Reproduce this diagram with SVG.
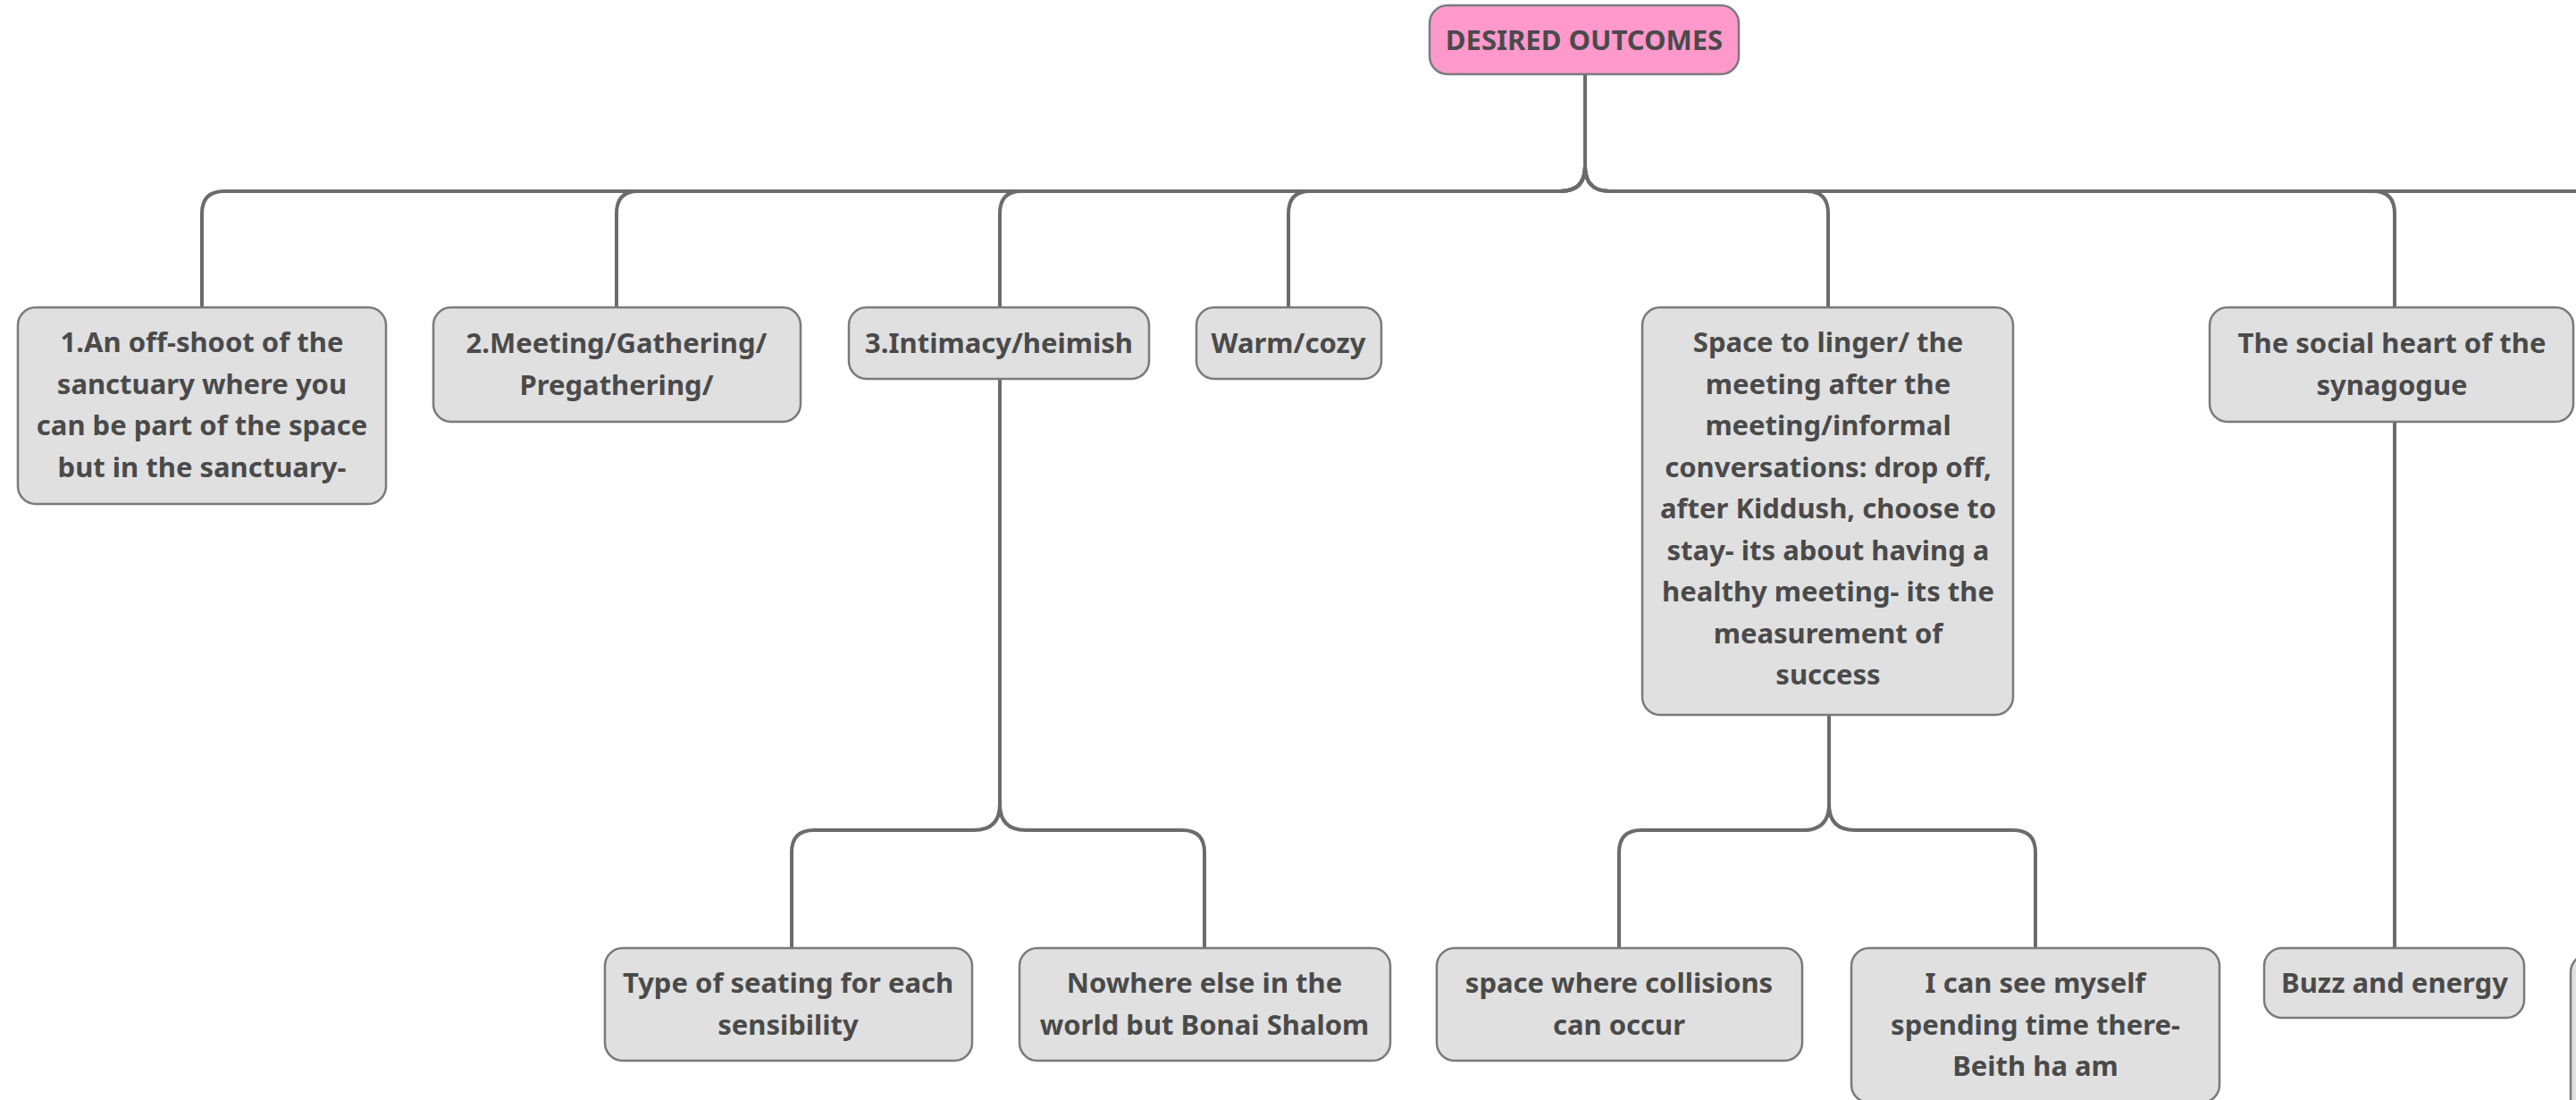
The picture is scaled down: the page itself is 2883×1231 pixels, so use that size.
<svg xmlns="http://www.w3.org/2000/svg" width="2883" height="1231" viewBox="0 0 2883 1231">
<style>
.node rect{fill:#e0e0e0;stroke:#7a7a7a;stroke-width:2.5}
.root rect{fill:#ff99cc;stroke:#7a7a7a;stroke-width:2.5}
text{font-family:"Noto Sans","Open Sans","Liberation Sans",sans-serif;font-weight:bold;font-size:31px;fill:#4a4a4a;text-anchor:middle}
.conn path{fill:none;stroke:#6b6b6b;stroke-width:4}
</style>
<rect width="2883" height="1231" fill="#ffffff"/>
<g id="connectors" class="conn">
<path d="M1774 83 V186 Q1774 214 1746 214 H251 Q226 214 226 239 V344"/>
<path d="M1774 83 V186 Q1774 214 1746 214 H714 Q690 214 690 239 V344"/>
<path d="M1774 83 V186 Q1774 214 1746 214 H1143 Q1119 214 1119 239 V344"/>
<path d="M1774 83 V186 Q1774 214 1746 214 H1466 Q1442 214 1442 239 V344"/>
<path d="M1774 83 V186 Q1774 214 1802 214 H2022 Q2046 214 2046 239 V344"/>
<path d="M1774 83 V186 Q1774 214 1802 214 H2656 Q2680 214 2680 239 V344"/>
<path d="M1774 83 V186 Q1774 214 1802 214 H2950"/>
<path d="M1119 424 V900 Q1119 929 1090 929 H911 Q886 929 886 954 V1061"/>
<path d="M1119 424 V900 Q1119 929 1148 929 H1323 Q1348 929 1348 954 V1061"/>
<path d="M2047 800 V900 Q2047 929 2018 929 H1837 Q1812 929 1812 954 V1061"/>
<path d="M2047 800 V900 Q2047 929 2076 929 H2253 Q2278 929 2278 954 V1061"/>
<path d="M2680 472 V1061"/>
</g>
<g id="root" class="root">
<rect x="1600" y="6" width="346" height="77" rx="20"/>
<text x="1773" y="56" font-size="33">DESIRED OUTCOMES</text>
</g>
<g id="n1" class="node">
<rect x="20" y="344" width="412" height="220" rx="20"/>
<text x="226" y="394">1.An off-shoot of the</text>
<text x="226" y="440.5">sanctuary where you</text>
<text x="226" y="487">can be part of the space</text>
<text x="226" y="533.5">but in the sanctuary-</text>
</g>
<g id="n2" class="node">
<rect x="485" y="344" width="411" height="128" rx="20"/>
<text x="690" y="395">2.Meeting/Gathering/</text>
<text x="690" y="441.5">Pregathering/</text>
</g>
<g id="n3" class="node">
<rect x="950" y="344" width="336" height="80" rx="20"/>
<text x="1118" y="395">3.Intimacy/heimish</text>
</g>
<g id="n4" class="node">
<rect x="1339" y="344" width="207" height="80" rx="20"/>
<text x="1442" y="395">Warm/cozy</text>
</g>
<g id="n5" class="node">
<rect x="1838" y="344" width="415" height="456" rx="20"/>
<text x="2046" y="394">Space to linger/ the</text>
<text x="2046" y="440.5">meeting after the</text>
<text x="2046" y="487">meeting/informal</text>
<text x="2046" y="533.5">conversations: drop off,</text>
<text x="2046" y="580">after Kiddush, choose to</text>
<text x="2046" y="626.5">stay- its about having a</text>
<text x="2046" y="673">healthy meeting- its the</text>
<text x="2046" y="719.5">measurement of</text>
<text x="2046" y="766">success</text>
</g>
<g id="n6" class="node">
<rect x="2473" y="344" width="407" height="128" rx="20"/>
<text x="2677" y="395">The social heart of the</text>
<text x="2677" y="441.5">synagogue</text>
</g>
<g id="n7" class="node">
<rect x="677" y="1061" width="411" height="126" rx="20"/>
<text x="882" y="1111">Type of seating for each</text>
<text x="882" y="1157.5">sensibility</text>
</g>
<g id="n8" class="node">
<rect x="1141" y="1061" width="415" height="126" rx="20"/>
<text x="1348" y="1111">Nowhere else in the</text>
<text x="1348" y="1157.5">world but Bonai Shalom</text>
</g>
<g id="n9" class="node">
<rect x="1608" y="1061" width="409" height="126" rx="20"/>
<text x="1812" y="1111">space where collisions</text>
<text x="1812" y="1157.5">can occur</text>
</g>
<g id="n10" class="node">
<rect x="2072" y="1061" width="412" height="173" rx="20"/>
<text x="2278" y="1111">I can see myself</text>
<text x="2278" y="1157.5">spending time there-</text>
<text x="2278" y="1204">Beith ha am</text>
</g>
<g id="n11" class="node">
<rect x="2534" y="1061" width="291" height="78" rx="20"/>
<text x="2680" y="1111">Buzz and energy</text>
</g>
<g id="n12" class="node">
<rect x="2877" y="1068" width="300" height="300" rx="20"/>
</g>
</svg>
